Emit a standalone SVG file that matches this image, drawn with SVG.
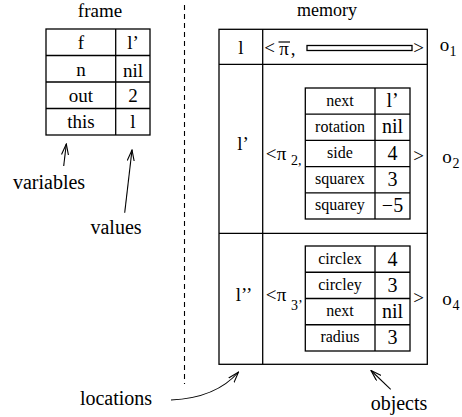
<svg xmlns="http://www.w3.org/2000/svg" width="462" height="417" viewBox="0 0 462 417">
  <style>
    text { font-family: "Liberation Serif", "Times New Roman", serif; fill: #000; }
    .lbl { font-size: 20px; text-anchor: middle; }
    .cell { font-size: 19px; text-anchor: middle; }
    .nm { font-size: 16px; text-anchor: middle; }
    .val { font-size: 20px; text-anchor: middle; }
    .sub { font-size: 14px; }
    .box { fill: none; stroke: #000; stroke-width: 1.3; }
    .conn { fill: none; stroke: #000; stroke-width: 1.1; }
  </style>
  <defs>
    <marker id="open" viewBox="0 0 12 8" refX="11" refY="4" markerWidth="12" markerHeight="8" markerUnits="userSpaceOnUse" orient="auto">
      <path d="M0,0.5 L11,4 L0,7.5" fill="none" stroke="#000" stroke-width="1.1"/>
    </marker>
  </defs>

  <rect width="462" height="417" fill="#fff"/>

  <!-- headings -->
  <text class="lbl" x="100" y="17" style="font-size:19px">frame</text>
  <text class="lbl" x="327" y="16" style="font-size:18px">memory</text>

  <!-- divider between frame and heap -->
  <line x1="184.5" y1="5" x2="184.5" y2="384" stroke="#000" stroke-width="1.1" stroke-dasharray="5,4"/>

  <!-- stack frame -->
  <g id="frame">
    <rect class="box" x="46" y="29" width="104" height="106"/>
    <line class="box" x1="115.7" y1="29" x2="115.7" y2="135"/>
    <line class="box" x1="46" y1="55.5" x2="150" y2="55.5"/>
    <line class="box" x1="46" y1="82" x2="150" y2="82"/>
    <line class="box" x1="46" y1="108.5" x2="150" y2="108.5"/>
    <text class="cell" x="81" y="49">f</text>
    <text class="cell" x="81" y="75.5">n</text>
    <text class="cell" x="81" y="101.5">out</text>
    <text class="cell" x="81" y="128">this</text>
    <text class="cell" x="133" y="49">l’</text>
    <text class="cell" x="133" y="77">nil</text>
    <text class="cell" x="133" y="101.5">2</text>
    <text class="cell" x="133" y="128">l</text>
  </g>

  <!-- heap -->
  <g id="memory">
    <rect class="box" x="219" y="29.3" width="208.3" height="335"/>
    <line class="box" x1="262.7" y1="29.3" x2="262.7" y2="364.3"/>
    <line class="box" x1="219" y1="64.3" x2="427.3" y2="64.3"/>
    <line class="box" x1="219" y1="233.3" x2="427.3" y2="233.3"/>
  </g>

  <g id="o1">
    <text class="cell" x="241" y="54">l</text>
    <text class="cell" x="269.5" y="54">&lt;</text>
    <text class="cell" x="284" y="55">π</text>
    <line x1="278.5" y1="42" x2="290" y2="42" stroke="#000" stroke-width="1.2"/>
    <text class="cell" x="293" y="55">,</text>
    <rect class="box" x="307" y="45.5" width="105" height="5"/>
    <text class="cell" x="418.5" y="54">&gt;</text>
    <text class="cell" x="444.5" y="51">o</text>
    <text class="sub" x="449.5" y="56">1</text>
  </g>

  <g id="o2">
    <text class="cell" x="243" y="150">l’</text>
    <text class="cell" x="271" y="160">&lt;</text>
    <text class="cell" x="281.5" y="160">π</text>
    <text class="sub" x="291" y="165">2,</text>
    <rect class="box" x="305.3" y="88" width="104.7" height="131"/>
    <line class="box" x1="375" y1="88" x2="375" y2="219"/>
    <line class="box" x1="305.3" y1="114.2" x2="410" y2="114.2"/>
    <line class="box" x1="305.3" y1="140.4" x2="410" y2="140.4"/>
    <line class="box" x1="305.3" y1="166.6" x2="410" y2="166.6"/>
    <line class="box" x1="305.3" y1="192.8" x2="410" y2="192.8"/>
    <text class="nm" x="340" y="106">next</text>
    <text class="nm" x="340" y="132">rotation</text>
    <text class="nm" x="340" y="158">side</text>
    <text class="nm" x="340" y="184">squarex</text>
    <text class="nm" x="340" y="210">squarey</text>
    <text class="val" x="392.5" y="107">l’</text>
    <text class="val" x="392.5" y="133">nil</text>
    <text class="val" x="392.5" y="160">4</text>
    <text class="val" x="392.5" y="186">3</text>
    <text class="val" x="392.5" y="212">−5</text>
    <text class="cell" x="418.5" y="162">&gt;</text>
    <text class="cell" x="447" y="163">o</text>
    <text class="sub" x="452.5" y="168">2</text>
  </g>

  <g id="o4">
    <text class="cell" x="244" y="301">l’’</text>
    <text class="cell" x="271" y="301">&lt;</text>
    <text class="cell" x="281.5" y="301">π</text>
    <text class="sub" x="291" y="310">3’</text>
    <rect class="box" x="305.3" y="246" width="104.7" height="105"/>
    <line class="box" x1="375" y1="246" x2="375" y2="351"/>
    <line class="box" x1="305.3" y1="272.25" x2="410" y2="272.25"/>
    <line class="box" x1="305.3" y1="298.5" x2="410" y2="298.5"/>
    <line class="box" x1="305.3" y1="324.75" x2="410" y2="324.75"/>
    <text class="nm" x="340" y="264">circlex</text>
    <text class="nm" x="340" y="290">circley</text>
    <text class="nm" x="340" y="316">next</text>
    <text class="nm" x="340" y="342">radius</text>
    <text class="val" x="392.5" y="266">4</text>
    <text class="val" x="392.5" y="292">3</text>
    <text class="val" x="392.5" y="318">nil</text>
    <text class="val" x="392.5" y="344">3</text>
    <text class="cell" x="418.5" y="304">&gt;</text>
    <text class="cell" x="447" y="305">o</text>
    <text class="sub" x="452.5" y="310">4</text>
  </g>

  <!-- annotations -->
  <g id="annotations">
    <text class="lbl" x="49" y="189">variables</text>
    <text class="lbl" x="116" y="234">values</text>
    <text class="lbl" x="116" y="405">locations</text>
    <text class="lbl" x="399" y="410">objects</text>
  </g>

  <g id="connectors">
    <line class="conn" x1="63.7" y1="166" x2="66.3" y2="144" marker-end="url(#open)"/>
    <line class="conn" x1="124.7" y1="212.7" x2="132" y2="150" marker-end="url(#open)"/>
    <path class="conn" d="M171,400 Q216,398 238.5,372" marker-end="url(#open)"/>
    <line class="conn" x1="390.7" y1="389.3" x2="371" y2="370.5" marker-end="url(#open)"/>
  </g>
</svg>
